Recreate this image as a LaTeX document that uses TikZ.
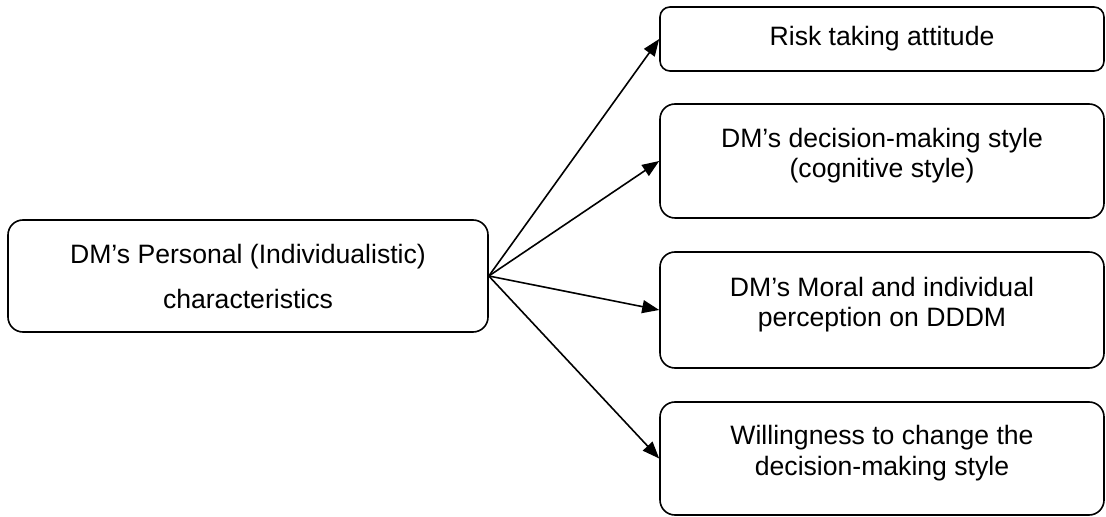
\documentclass[tikz,border=0pt]{standalone}
\usepackage{fontspec}
\setmainfont{Liberation Sans}
\usepackage{tikz}
\usetikzlibrary{positioning, arrows.meta}
\tikzset{dbox/.style={draw, line width=0.8pt, rounded corners=7.5pt, align=center, inner sep=0pt, font=\fontsize{13.3}{15.3}\selectfont}}
\tikzset{dleft/.style={dbox, minimum width=240pt, minimum height=56pt, font=\fontsize{13.3}{22.5}\selectfont}}
\tikzset{dright/.style={dbox, minimum width=222pt}}
\tikzset{dtall/.style={dright, text depth=8pt}}
\tikzset{arr/.style={draw, line width=0.8pt, -{Triangle[length=8.5pt, width=6.5pt]}}}

\begin{document}
\begin{tikzpicture}[x=1pt, y=1pt]
            \useasboundingbox (0,0) rectangle (553,-258.5);
            \node[dleft] (P) at (124,-138) {DM's Personal (Individualistic)\\characteristics};
            % the four characteristics
            \node[dright, minimum height=32pt, rounded corners=5pt] (R) at (441,-19.5) {Risk taking attitude};
            \node[dtall, minimum height=57pt] (S) at (441,-80.5) {DM's decision-making style\\(cognitive style)};
            \node[dtall, minimum height=58pt] (M) at (441,-155) {DM's Moral and individual\\perception on DDDM};
            \node[dtall, minimum height=56.5pt] (W) at (441,-229.25) {Willingness to change the\\decision-making style};
            \draw[arr] (P.east) -- (R.west);
            \draw[arr] (P.east) -- (S.west);
            \draw[arr] (P.east) -- (M.west);
            \draw[arr] (P.east) -- (W.west);
        \end{tikzpicture}
\end{document}
